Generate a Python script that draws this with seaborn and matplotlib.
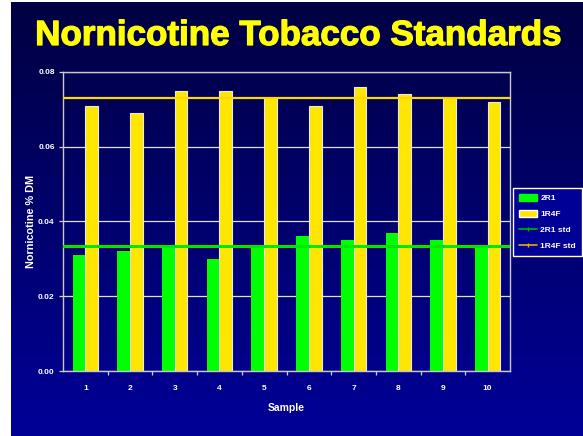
import numpy as np
import pandas as pd
import matplotlib
matplotlib.use("Agg")
import matplotlib.pyplot as plt
import matplotlib.patheffects as pe
from matplotlib.lines import Line2D
from matplotlib.patches import Patch
import seaborn as sns

samples = ["1", "2", "3", "4", "5", "6", "7", "8", "9", "10"]
r2r1 = [0.031, 0.032, 0.033, 0.030, 0.033, 0.036, 0.035, 0.037, 0.035, 0.0337]
r1r4f = [0.071, 0.069, 0.075, 0.075, 0.073, 0.071, 0.076, 0.074, 0.073, 0.072]
std_2r1 = 0.0335
std_1r4f = 0.073
y_ticks = [0.00, 0.02, 0.04, 0.06, 0.08]

df = pd.DataFrame({
    "Sample": samples * 2,
    "value": r2r1 + r1r4f,
    "series": ["2R1"] * len(samples) + ["1R4F"] * len(samples),
})

sns.set_theme(style="white")
plt.rcParams["font.family"] = ["Liberation Sans", "DejaVu Sans"]
plt.rcParams["font.weight"] = "bold"

W, H = 583, 436
fig = plt.figure(figsize=(W / 100, H / 100), dpi=100, facecolor="white")

# navy-to-blue vertical gradient backdrop
bg = fig.add_axes([11 / W, 0, 1 - 11 / W, 1 - 2 / H])
grad = np.linspace(0, 1, 256).reshape(-1, 1)
top = np.array([0, 0, 66]) / 255
bot = np.array([0, 0, 152]) / 255
img = top + (bot - top) * grad[..., None]
img = img.reshape(256, 1, 3)
bg.imshow(img, aspect="auto", extent=[0, 1, 0, 1], interpolation="bicubic")
bg.set_axis_off()

fig.text(298.5 / W, 1 - 45 / H, "Nornicotine Tobacco Standards",
         ha="center", va="baseline", color="#FFFF00",
         fontsize=25.2, fontweight="bold",
         path_effects=[pe.withStroke(linewidth=0.9, foreground="#FFFF00")])

ax = fig.add_axes([63 / W, 1 - 371 / H, (510 - 63) / W, (371 - 72) / H])
ax.patch.set_alpha(0)

sns.barplot(data=df, x="Sample", y="value", hue="series",
            palette={"2R1": "#00FF00", "1R4F": "#FFE600"},
            width=0.57, gap=0, saturation=1, legend=False, ax=ax, zorder=2)

n = len(samples)
for i, bar in enumerate(ax.patches):
    if i >= n:
        bar.set_edgecolor("#E8E8E8")
        bar.set_linewidth(0.8)
    else:
        bar.set_linewidth(0)

ax.axhline(std_2r1, color="#00E800", lw=2.2, zorder=4)
ax.axhline(std_1r4f, color="#FFD800", lw=1.6, zorder=4)

ax.set_xlim(-0.5, n - 0.5)
ax.set_ylim(0, 0.08)
ax.set_yticks(y_ticks)
ax.set_yticklabels([f"{v:.2f}" for v in y_ticks])
ax.yaxis.grid(True, color="#E0E0E0", lw=0.9)
ax.set_axisbelow(True)

ax.set_xticks(range(n))
ax.set_xticklabels(samples)
ax.set_xticks(np.arange(0.5, n - 0.5, 1), minor=True)
ax.tick_params(axis="x", which="major", length=0, pad=10,
               labelsize=6, labelcolor="white")
ax.tick_params(axis="x", which="minor", length=3, width=0.9,
               color="#D0D0D0", direction="out", bottom=True)
ax.tick_params(axis="y", length=3, width=0.9, color="#D0D0D0",
               direction="out", left=True, labelsize=6, labelcolor="white", pad=3)

for s in ax.spines.values():
    s.set_color("#C8C8C8")
    s.set_linewidth(1.0)

ax.set_xlabel("Sample", color="white", fontsize=7.5, fontweight="bold", labelpad=8)
ax.set_ylabel("Nornicotine % DM", color="white", fontsize=7.8,
              fontweight="bold", labelpad=1.5)

handles = [
    Patch(facecolor="#00FF00", edgecolor="#00FF00", label="2R1"),
    Patch(facecolor="#FFE600", edgecolor="white", label="1R4F"),
    Line2D([0], [0], color="#00B000", lw=1.2, marker="|", markersize=3, label="2R1 std"),
    Line2D([0], [0], color="#E0B000", lw=1.2, marker="|", markersize=3, label="1R4F std"),
]
leg = fig.legend(handles=handles, loc="upper left",
                 bbox_to_anchor=(513 / W, 1 - 188 / H),
                 frameon=True, fancybox=False, fontsize=6,
                 handlelength=2.2, handleheight=0.9, borderpad=0.7,
                 labelspacing=0.9, handletextpad=0.4, borderaxespad=0)
frame = leg.get_frame()
frame.set_facecolor("#000096")
frame.set_edgecolor("white")
frame.set_linewidth(1.0)
frame.set_alpha(1)
for t in leg.get_texts():
    t.set_color("white")
    t.set_fontweight("bold")

fig.savefig("out.png", dpi=100, facecolor="white")
